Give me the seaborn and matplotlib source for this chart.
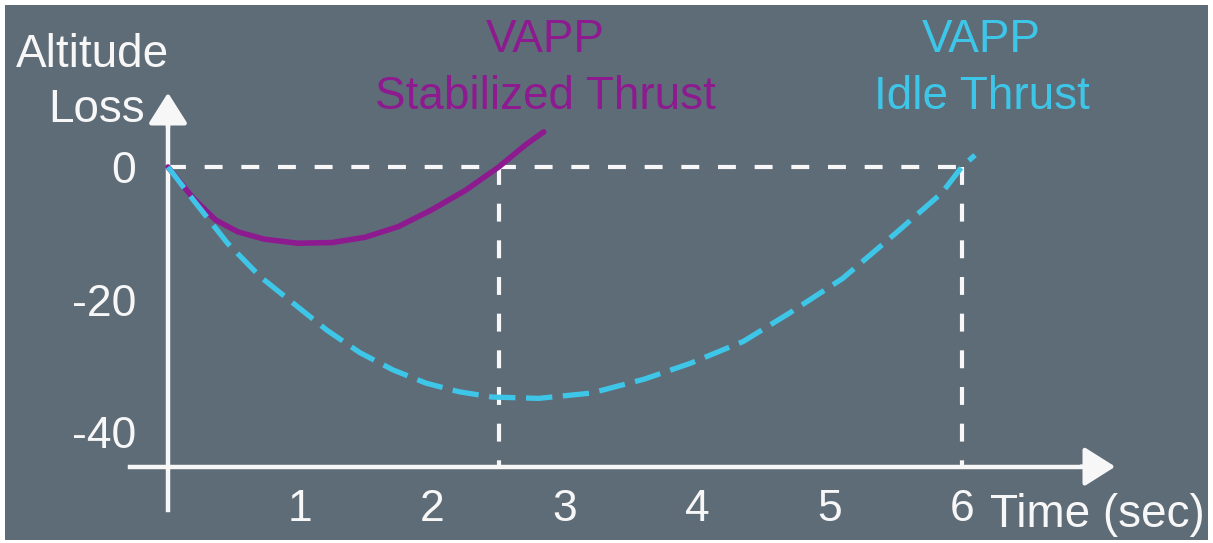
import numpy as np
import pandas as pd
import matplotlib.pyplot as plt
import seaborn as sns

# data
stab_time = [0.0, 0.19, 0.36, 0.53, 0.73, 0.98, 1.24, 1.49, 1.74, 1.99, 2.25, 2.5, 2.7, 2.84]
stab_loss = [0.0, -4.7, -8.0, -9.8, -10.9, -11.5, -11.4, -10.6, -9.0, -6.5, -3.5, 0.0, 3.3, 5.3]

idle_time = [0.0, 0.2, 0.45, 0.7, 0.95, 1.2, 1.45, 1.7, 1.95, 2.2, 2.45, 2.8,
             3.2, 3.6, 3.95, 4.35, 4.7, 5.1, 5.5, 5.85, 6.0, 6.1]
idle_loss = [0.0, -5.2, -11.5, -16.6, -20.6, -24.6, -28.0, -30.6, -32.6, -33.9, -34.7, -34.9,
             -34.1, -32.0, -29.6, -26.3, -22.0, -16.8, -10.0, -3.9, 0.0, 1.8]

cross_times = [2.5, 6.0]
x_ticks = [1, 2, 3, 4, 5, 6]
y_ticks = [-40, -20, 0]
y_minor = [-30, -10]

BG = '#5e6c78'
PURPLE = '#8e1a90'
CYAN = '#3ec6e8'
WHITE = '#f7f7f7'

sns.set_style("white")
plt.rcParams['font.family'] = ['Liberation Sans', 'DejaVu Sans']
plt.rcParams['axes.unicode_minus'] = False

fig = plt.figure(figsize=(12.13, 5.43), dpi=100, facecolor='white')
ax = fig.add_axes([5 / 1213, 3 / 543, 1203 / 1213, 535 / 543])
ax.set_facecolor(BG)

x_floor = -45.2  # where the time axis sits

# white dashed reference lines
ax.plot([0, max(cross_times)], [0, 0], color=WHITE, lw=3, dashes=(4.3, 4.5), zorder=2)
for t in cross_times:
    ax.plot([t, t], [0, x_floor], color=WHITE, lw=3, dashes=(4.3, 4.5), zorder=2)

# curves
stab = pd.DataFrame({'time': stab_time, 'loss': stab_loss})
idle = pd.DataFrame({'time': idle_time, 'loss': idle_loss})
sns.lineplot(data=stab, x='time', y='loss', color=PURPLE, lw=4, ax=ax, zorder=3)
sns.lineplot(data=idle, x='time', y='loss', color=CYAN, lw=3.8,
             linestyle=(0, (5, 2)), ax=ax, zorder=4)

ax.set_xlim(-1.232, 7.861)
ax.set_ylim(-56.26, 24.43)
ax.set_xlabel('')
ax.set_ylabel('')

# axes drawn as arrows through the origin
for s in ['top', 'right']:
    ax.spines[s].set_visible(False)
ax.spines['left'].set_position(('data', 0))
ax.spines['bottom'].set_position(('data', x_floor))
ax.spines['left'].set_bounds(-51.8, 9)
ax.spines['bottom'].set_bounds(-0.29, 7.0)
for s in ['left', 'bottom']:
    ax.spines[s].set_color(WHITE)
    ax.spines[s].set_linewidth(3.2)

arrow = dict(arrowstyle='-|>,head_length=0.95,head_width=0.6', mutation_scale=20,
             color=WHITE, lw=3.2, shrinkA=0, shrinkB=0)
ax.annotate('', xy=(7.16, x_floor), xytext=(6.9, x_floor), arrowprops=arrow)
ax.annotate('', xy=(0, 11.2), xytext=(0, 6), arrowprops=arrow)

ax.set_xticks(x_ticks)
ax.set_yticks(y_ticks)
ax.set_yticks(y_minor, minor=True)
ax.tick_params(axis='both', which='both', colors=WHITE, labelsize=32, width=2.4, length=9)
ax.tick_params(axis='y', which='both', pad=14)
ax.tick_params(axis='x', pad=7)

# labels
ax.text(-0.57, 16.9, 'Altitude', color=WHITE, fontsize=33, ha='center', va='center')
ax.text(-0.54, 8.6, 'Loss', color=WHITE, fontsize=33, ha='center', va='center')
ax.text(6.21, -52.5, 'Time (sec)', color=WHITE, fontsize=33, ha='left', va='center')

ax.text(2.85, 19.2, 'VAPP', color=PURPLE, fontsize=33, ha='center', va='center')
ax.text(2.85, 10.6, 'Stabilized Thrust', color=PURPLE, fontsize=33, ha='center', va='center')
ax.text(6.15, 19.2, 'VAPP', color=CYAN, fontsize=33, ha='center', va='center')
ax.text(6.15, 10.6, 'Idle Thrust', color=CYAN, fontsize=33, ha='center', va='center')

plt.savefig('out.png', dpi=100, facecolor='white')
